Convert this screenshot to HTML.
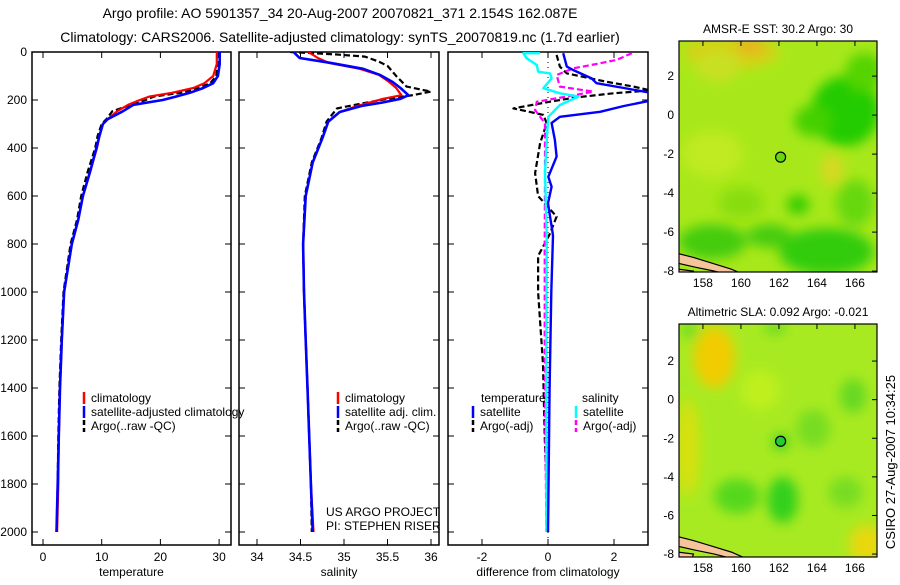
<!DOCTYPE html>
<html><head><meta charset="utf-8">
<style>
html,body{margin:0;padding:0;background:#fff;}
svg text{font-family:"Liberation Sans",sans-serif;fill:#000;}
</style></head>
<body>
<svg id="fig" width="900" height="580" viewBox="0 0 900 580" xmlns="http://www.w3.org/2000/svg">
<defs>
<clipPath id="c1"><rect x="32" y="52" width="199" height="493"/></clipPath>
<clipPath id="c2"><rect x="239" y="52" width="200" height="493"/></clipPath>
<clipPath id="c3"><rect x="448" y="52" width="200" height="493"/></clipPath>
<clipPath id="m1"><rect x="679" y="41" width="198" height="231"/></clipPath>
<clipPath id="m2"><rect x="679" y="324" width="198" height="233"/></clipPath>
<filter id="bl" x="-50%" y="-50%" width="200%" height="200%"><feGaussianBlur stdDeviation="6"/></filter>
</defs>
<text x="340" y="18" font-size="14" text-anchor="middle">Argo profile: AO 5901357_34 20-Aug-2007 20070821_371 2.154S 162.087E</text>
<text x="340" y="42" font-size="14" text-anchor="middle">Climatology: CARS2006. Satellite-adjusted climatology: synTS_20070819.nc (1.7d earlier)</text>
<g id="g1"></g>
<g id="g2"></g>
<g id="g3"></g>
<g id="map1"></g>
<g id="map2"></g>
<text font-size="13" text-anchor="middle" transform="translate(895,462) rotate(-90)">CSIRO 27-Aug-2007 10:34:25</text>
</svg>
<script>
// ---- temperature data ----
const tDepth = [0,50,100,130,150,170,185,200,220,247,280,300,350,400,500,600,700,800,1000,1200,1400,1600,1800,2000];
const tClim  = [29.6,29.6,29.0,27.5,25.6,22.0,18.2,16.5,14.5,12.6,11.0,10.2,9.6,9.2,8.0,6.8,6.0,4.9,3.6,3.2,2.9,2.7,2.6,2.4];
const tSat   = [30.1,30.1,29.8,29.0,27.3,25.0,22.8,20.4,15.4,13.6,11.0,10.2,9.6,9.1,8.0,6.8,6.0,4.9,3.6,3.2,2.9,2.7,2.5,2.3];
const tArgo  = [29.8,29.8,29.5,28.5,26.5,23.5,19.0,17.5,15.0,11.8,10.8,10.0,9.3,8.9,7.6,6.5,5.8,4.7,3.5,3.1,2.8,2.6,2.5,2.3];
// ---- salinity data ----
const sDepth = [0,25,45,70,95,125,150,180,195,210,225,250,290,360,460,600,800,1000,1200,1400,1600,1800,2000];
const sSat   = [34.42,34.49,34.84,35.22,35.41,35.56,35.65,35.74,35.65,35.45,35.2,34.95,34.82,34.75,34.64,34.56,34.53,34.54,34.56,34.58,34.6,34.62,34.64];
const sClim  = [34.59,34.7,34.82,35.18,35.4,35.52,35.6,35.66,35.45,35.3,35.15,34.95,34.82,34.75,34.64,34.56,34.53,34.54,34.56,34.58,34.6,34.62,34.65];
const aDepth = [0,10,19,40,58,100,144,165,179,196,215,235,290,360,460,600,800,1000,1200,1400,1600,1800,2000];
const sArgo  = [34.38,34.9,35.24,35.4,35.5,35.6,35.72,36.0,35.8,35.49,35.2,34.92,34.8,34.74,34.63,34.55,34.53,34.54,34.56,34.58,34.6,34.62,34.63];
// ---- difference data ----
const dTSatDepth = [5,61,75,110,130,150,172,185,200,225,249,270,296,367,436,520,561,630,764,1000,1400,2000];
const dTSat      = [0.46,0.57,0.76,1.32,1.47,2.3,3.2,3.5,3.2,2.3,1.58,0.36,0.11,0.21,0.26,0.01,0.11,0,0.15,0.1,0.05,0.0];
const dSSatDepth = [5,5,26,54,82,89,110,151,172,186,221,270,367,505,764,1200,2000];
const dSSat      = [-0.24,-0.75,-0.65,-0.34,-0.3,0.06,0.11,-0.14,0.36,0.92,0.36,0.01,-0.04,-0.09,-0.04,-0.05,-0.05];
const dTArgoDepth = [12,61,89,124,144,160,172,190,207,235,262,297,380,505,600,686,760,850,1000,1300,1600,2000];
const dTArgo      = [0.26,0.36,0.57,1.78,2.59,3.1,1.98,0.8,0.06,-1.05,-0.14,-0.04,-0.24,-0.39,-0.3,0.26,0.05,-0.3,-0.3,-0.15,-0.1,0.0];
const dSArgoDepth = [5,33,50,68,96,144,165,186,207,242,297,505,800,1200,1600,2000];
const dSArgo      = [2.54,2.08,1.47,0.77,0.26,0.36,1.37,0.57,-0.34,-0.39,-0.09,-0.09,-0.1,-0.1,-0.08,-0.05];
// ---- ticks ----
const depthTicks = [0,200,400,600,800,1000,1200,1400,1600,1800,2000];
const tTicks = [0,10,20,30];
const sTicks = [34,34.5,35,35.5,36];
const dTicks = [-2,0,2];
const latTicks = [2,0,-2,-4,-6,-8];
const lonTicks = [158,160,162,164,166];

const NS = 'http://www.w3.org/2000/svg';
function mk(parent, tag, attrs){const e=document.createElementNS(NS,tag);for(const k in attrs)e.setAttribute(k,attrs[k]);parent.appendChild(e);return e;}
const Y = d => 52 + d*0.24;

function panel(g, x0, x1, xs, ticks, fmt, xlabel, clip){
  const fr = mk(g,'rect',{x:x0,y:52,width:x1-x0,height:493,fill:'none',stroke:'#000','stroke-width':1.5});
  
  
  depthTicks.forEach(d=>{
    const l=mk(g,'line',{x1:x0,x2:x0+6,y1:Y(d),y2:Y(d),stroke:'#000'});
    
    
    const r=mk(g,'line',{x1:x1,x2:x1-6,y1:Y(d),y2:Y(d),stroke:'#000'});
    
    
  });
  ticks.forEach(v=>{
    const X=xs(v);
    const b=mk(g,'line',{x1:X,x2:X,y1:545,y2:539,stroke:'#000'});
    
    
    const t=mk(g,'line',{x1:X,x2:X,y1:52,y2:58,stroke:'#000'});
    
    
    const tx=mk(g,'text',{x:X,y:561,'font-size':12,'text-anchor':'middle'});
    tx.textContent=fmt(v);
    
    
  });
  const xl=mk(g,'text',{x:(x0+x1)/2,y:576,'font-size':12,'text-anchor':'middle'});
  xl.textContent=xlabel;
  
  
}
function line(g, xs, vals, depths, color, w, dash, clip, name){
  const pts = vals.map((v,i)=>xs(v).toFixed(1)+','+Y(depths[i]).toFixed(1)).join(' ');
  const a={points:pts,fill:'none',stroke:color,'stroke-width':w,'clip-path':'url(#'+clip+')','stroke-linejoin':'round'};
  if(dash)a['stroke-dasharray']=dash;
  const p=mk(g,'polyline',a);
  
  
}
function legend(g,x,y,color,label,dash){
  const l=mk(g,'line',{x1:x,x2:x,y1:y-10,y2:y+2,stroke:color,'stroke-width':2.5});
  if(dash)l.setAttribute('stroke-dasharray','5,3');
  
  
  const t=mk(g,'text',{x:x+7,y:y,'font-size':12});
  t.textContent=label;
  
  
}

// Panel 1
const g1=document.getElementById('g1');
const xT = v => 43 + v*5.87;
panel(g1,32,231,xT,tTicks,v=>String(v),'temperature','c1');
depthTicks.forEach(d=>{
  const t=mk(g1,'text',{x:27,y:Y(d)+4,'font-size':12,'text-anchor':'end'});
  t.textContent=d;
  
  
});
line(g1,xT,tArgo,tDepth,'#000',2.2,'6,3','c1','temp-argo-line');
line(g1,xT,tClim,tDepth,'#f00',2.2,null,'c1','temp-climatology-line');
line(g1,xT,tSat,tDepth,'#00f',2.6,null,'c1','temp-satellite-line');
legend(g1,84,402,'#f00','climatology');
legend(g1,84,416,'#00f','satellite-adjusted climatology');
legend(g1,84,430,'#000','Argo(..raw -QC)',true);

// Panel 2
const g2=document.getElementById('g2');
const xS = v => 257 + (v-34)*87;
panel(g2,239,439,xS,sTicks,v=>String(v),'salinity','c2');
line(g2,xS,sArgo,aDepth,'#000',2.2,'6,3','c2','sal-argo-line');
line(g2,xS,sClim,sDepth,'#f00',2.2,null,'c2','sal-climatology-line');
line(g2,xS,sSat,sDepth,'#00f',2.6,null,'c2','sal-satellite-line');
legend(g2,338,402,'#f00','climatology');
legend(g2,338,416,'#00f','satellite adj. clim.');
legend(g2,338,430,'#000','Argo(..raw -QC)',true);
const p1=mk(g2,'text',{x:326,y:516,'font-size':12});p1.textContent='US ARGO PROJECT';


const p2=mk(g2,'text',{x:326,y:530,'font-size':12});p2.textContent='PI: STEPHEN RISER';



// Panel 3
const g3=document.getElementById('g3');
const xD = v => 548 + v*33;
panel(g3,448,648,xD,dTicks,v=>String(v),'difference from climatology','c3');
const zl=mk(g3,'line',{x1:xD(0),x2:xD(0),y1:52,y2:545,stroke:'#000','stroke-dasharray':'1,4'});


line(g3,xD,dTArgo,dTArgoDepth,'#000',2.2,'6,3','c3','diff-temp-argo-line');
line(g3,xD,dSArgo,dSArgoDepth,'#f0f',2.2,'6,3','c3','diff-sal-argo-line');
line(g3,xD,dSSat,dSSatDepth,'#0ff',2.4,null,'c3','diff-sal-satellite-line');
line(g3,xD,dTSat,dTSatDepth,'#00f',2.4,null,'c3','diff-temp-satellite-line');
const lt=mk(g3,'text',{x:481,y:402,'font-size':12});lt.textContent='temperature';


const ls=mk(g3,'text',{x:582,y:402,'font-size':12});ls.textContent='salinity';


legend(g3,473,416,'#00f','satellite');
legend(g3,473,430,'#000','Argo(-adj)',true);
legend(g3,576,416,'#0ff','satellite');
legend(g3,576,430,'#f0f','Argo(-adj)',true);

// Maps
function mapPanel(id, top, bottom, latTop, pxDeg, title, base, blobs, circleFill){
  const g=document.getElementById(id);
  const clip = id==='map1'?'m1':'m2';
  const lx = lon => 679 + (lon-156.74)*19;
  const ly = lat => top + (latTop-lat)*pxDeg;
  const t=mk(g,'text',{x:778,y:top-8,'font-size':12,'text-anchor':'middle'});
  t.textContent=title;
  
  
  const bg=mk(g,'rect',{x:679,y:top,width:198,height:bottom-top,fill:base});
  
  
  const bg2=mk(g,'g',{'clip-path':'url(#'+clip+')'});
  const bb=mk(bg2,'g',{filter:'url(#bl)'});
  blobs.forEach(b=>{
    const e=mk(bb,'ellipse',{cx:lx(b[0]),cy:ly(b[1]),rx:b[2]*19,ry:b[3]*pxDeg,fill:b[4]});
    
    
  });
  // coastline
  const c=mk(bg2,'polygon',{points:[[156.7,-7.1],[157.5,-7.3],[158.5,-7.6],[159.5,-7.9],[160.2,-8.2],[159.8,-8.3],[158.6,-8.0],[157.6,-7.8],[156.7,-7.6]].map(p=>lx(p[0])+','+ly(p[1])).join(' '),fill:'#f5c49a',stroke:'#000','stroke-width':1.2});
  
  
  const c2=mk(bg2,'polygon',{points:[[156.7,-7.9],[157.5,-8.0],[157.4,-8.3],[156.7,-8.3]].map(p=>lx(p[0])+','+ly(p[1])).join(' '),fill:'#f5c49a',stroke:'#000','stroke-width':1.2});
  
  
  const fr=mk(g,'rect',{x:679,y:top,width:198,height:bottom-top,fill:'none',stroke:'#000','stroke-width':1.2});
  
  
  latTicks.forEach(l=>{
    const tk=mk(g,'line',{x1:877,x2:872,y1:ly(l),y2:ly(l),stroke:'#000'});
    
    
    const tx=mk(g,'text',{x:674,y:ly(l)+4,'font-size':12,'text-anchor':'end'});
    tx.textContent=String(l);
    
    
  });
  lonTicks.forEach(l=>{
    const tk=mk(g,'line',{x1:lx(l),x2:lx(l),y1:top,y2:top+5,stroke:'#000'});
    
    
    const tx=mk(g,'text',{x:lx(l),y:bottom+15,'font-size':12,'text-anchor':'middle'});
    tx.textContent=String(l);
    
    
  });
  const ci=mk(g,'circle',{cx:lx(162.087),cy:ly(-2.154),r:5,fill:circleFill,stroke:'#000','stroke-width':1.2});
  
  
}
mapPanel('map1',41,272,3.8,19.5,'AMSR-E SST: 30.2  Argo: 30','#a8e81a',[
  [159.5,3.2,2.5,0.8,'#d8d018'],[160.5,3.6,0.8,0.4,'#e8b020'],[158.8,2.5,1.2,0.8,'#c8e020'],
  [165.5,0.2,1.8,1.8,'#22cc00'],[166.5,2.2,1,1,'#55d400'],[163.8,-0.3,1,0.8,'#44d000'],
  [158.5,-2,1.6,1.2,'#c0ea20'],[164.8,-2.8,0.6,0.8,'#d8d820'],[163,-4.6,0.6,0.5,'#33cc00'],
  [164.5,-7,2.5,1.2,'#33cc10'],[158.5,-6.5,1.8,0.9,'#44cc10'],[161.5,-6.2,1.2,0.6,'#44cc10'],
  [166,-4.5,1,1.2,'#66d810'],[160,-4.5,1.2,0.8,'#88dd10']
],'#66d810');
mapPanel('map2',324,557,3.92,19.3,'Altimetric SLA: 0.092  Argo: -0.021','#a8ea22',[
  [158.6,2.2,1.1,1.6,'#f0cc00'],[157.2,-2.5,0.6,2.5,'#d8e010'],[166.6,-7.5,0.9,1,'#e8d810'],
  [159.8,-5.0,1.2,0.9,'#55d81e'],[162.2,-5.2,0.8,1.2,'#33d01e'],[163.8,-1.5,0.9,1,'#77dd22'],
  [165.9,0.2,0.7,0.9,'#66d822'],[165.5,-4.8,0.9,0.8,'#77dd22'],[162.1,-2.2,0.4,0.4,'#33cc22'],
  [161.8,3.7,0.6,0.3,'#66d822'],[157.3,3.6,0.4,0.4,'#66d822'],[161,0.5,1,1,'#bff01a']
],'#22cc33');
</script>
</body></html>
